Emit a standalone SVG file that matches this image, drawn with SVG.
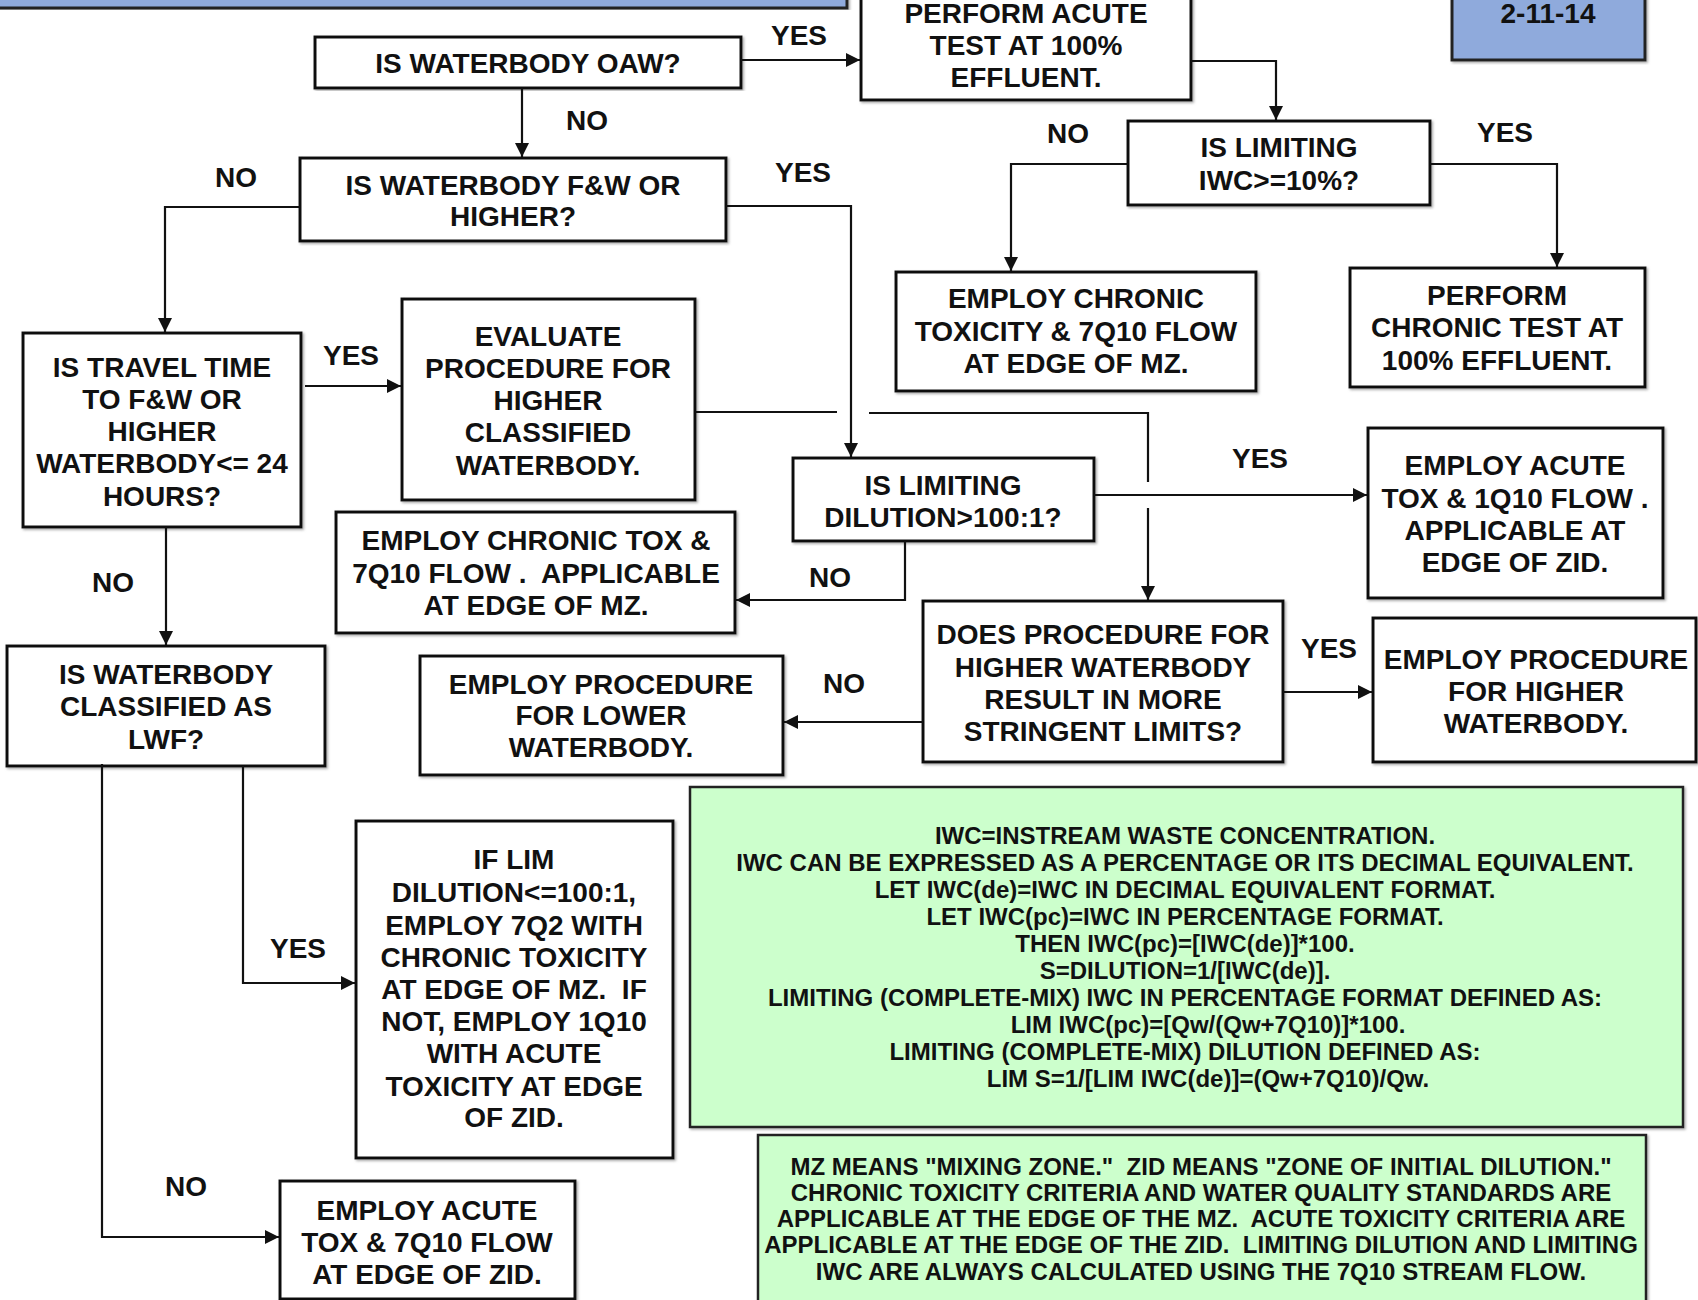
<svg xmlns="http://www.w3.org/2000/svg" width="1698" height="1300" viewBox="0 0 1698 1300">
<defs>
<marker id="arr" markerUnits="userSpaceOnUse" markerWidth="16" markerHeight="14" refX="14" refY="7" orient="auto">
<path d="M0,0 L14,7 L0,14 Z" fill="#111"/>
</marker>
<filter id="sh" x="-5%" y="-5%" width="110%" height="110%">
<feDropShadow dx="1.5" dy="1.5" stdDeviation="1" flood-color="#888" flood-opacity="0.7"/>
</filter>
<style>
.box{fill:#fff;stroke:#111;stroke-width:3;filter:url(#sh)}
.blue{fill:#8faadc;stroke:#222;stroke-width:3;filter:url(#sh)}
.green{fill:#ccffcc;stroke:#222;stroke-width:2.5;filter:url(#sh)}
.t{font-family:"Liberation Sans",Arial,sans-serif;font-weight:bold;font-size:28px;text-anchor:middle;fill:#111}
.g{font-family:"Liberation Sans",Arial,sans-serif;font-weight:bold;font-size:24px;text-anchor:middle;fill:#111;white-space:pre}
.c{fill:none;stroke:#111;stroke-width:2.2}
</style>
</defs>

<g id="banner"><rect class="blue" x="-4" y="-24" width="851" height="32"/></g>
<g id="date"><rect class="blue" x="1452" y="-24" width="193" height="84"/><text class="t" x="1548" y="23">2-11-14</text></g>

<g id="oaw"><rect class="box" x="315" y="37" width="426" height="51"/><text class="t" x="528" y="73">IS WATERBODY OAW?</text></g>
<g id="acuteTest"><rect class="box" x="861" y="-10" width="330" height="110"/><text class="t" x="1026" y="23">PERFORM ACUTE</text><text class="t" x="1026" y="55">TEST AT 100%</text><text class="t" x="1026" y="87">EFFLUENT.</text></g>
<g id="fw"><rect class="box" x="300" y="158" width="426" height="83"/><text class="t" x="513" y="195">IS WATERBODY F&amp;W OR</text><text class="t" x="513" y="226">HIGHER?</text></g>
<g id="iwc"><rect class="box" x="1128" y="121" width="302" height="84"/><text class="t" x="1279" y="157">IS LIMITING</text><text class="t" x="1279" y="190">IWC&gt;=10%?</text></g>
<g id="chronicMZ"><rect class="box" x="896" y="272" width="360" height="119"/><text class="t" x="1076" y="308">EMPLOY CHRONIC</text><text class="t" x="1076" y="341">TOXICITY &amp; 7Q10 FLOW</text><text class="t" x="1076" y="373">AT EDGE OF MZ.</text></g>
<g id="chronicTest"><rect class="box" x="1350" y="268" width="295" height="119"/><text class="t" x="1497" y="305">PERFORM</text><text class="t" x="1497" y="337">CHRONIC TEST AT</text><text class="t" x="1497" y="370">100% EFFLUENT.</text></g>
<g id="travel"><rect class="box" x="23" y="333" width="278" height="194"/><text class="t" x="162" y="377">IS TRAVEL TIME</text><text class="t" x="162" y="409">TO F&amp;W OR</text><text class="t" x="162" y="441">HIGHER</text><text class="t" x="162" y="473">WATERBODY&lt;= 24</text><text class="t" x="162" y="506">HOURS?</text></g>
<g id="evaluate"><rect class="box" x="402" y="299" width="293" height="201"/><text class="t" x="548" y="346">EVALUATE</text><text class="t" x="548" y="378">PROCEDURE FOR</text><text class="t" x="548" y="410">HIGHER</text><text class="t" x="548" y="442">CLASSIFIED</text><text class="t" x="548" y="475">WATERBODY.</text></g>
<g id="dilution"><rect class="box" x="793" y="458" width="301" height="83"/><text class="t" x="943" y="495">IS LIMITING</text><text class="t" x="943" y="527">DILUTION&gt;100:1?</text></g>
<g id="acute1q10"><rect class="box" x="1368" y="428" width="295" height="170"/><text class="t" x="1515" y="475">EMPLOY ACUTE</text><text class="t" x="1515" y="508">TOX &amp; 1Q10 FLOW .</text><text class="t" x="1515" y="540">APPLICABLE AT</text><text class="t" x="1515" y="572">EDGE OF ZID.</text></g>
<g id="chronicTox"><rect class="box" x="336" y="512" width="399" height="121"/><text class="t" x="536" y="550">EMPLOY CHRONIC TOX &amp;</text><text class="t" x="536" y="583" style="white-space:pre">7Q10 FLOW .  APPLICABLE</text><text class="t" x="536" y="615">AT EDGE OF MZ.</text></g>
<g id="does"><rect class="box" x="923" y="601" width="360" height="161"/><text class="t" x="1103" y="644">DOES PROCEDURE FOR</text><text class="t" x="1103" y="677">HIGHER WATERBODY</text><text class="t" x="1103" y="709">RESULT IN MORE</text><text class="t" x="1103" y="741">STRINGENT LIMITS?</text></g>
<g id="higher"><rect class="box" x="1373" y="618" width="323" height="144"/><text class="t" x="1536" y="669">EMPLOY PROCEDURE</text><text class="t" x="1536" y="701">FOR HIGHER</text><text class="t" x="1536" y="733">WATERBODY.</text></g>
<g id="lower"><rect class="box" x="420" y="656" width="363" height="119"/><text class="t" x="601" y="694">EMPLOY PROCEDURE</text><text class="t" x="601" y="725">FOR LOWER</text><text class="t" x="601" y="757">WATERBODY.</text></g>
<g id="lwf"><rect class="box" x="7" y="646" width="318" height="120"/><text class="t" x="166" y="684">IS WATERBODY</text><text class="t" x="166" y="716">CLASSIFIED AS</text><text class="t" x="166" y="749">LWF?</text></g>
<g id="iflim"><rect class="box" x="356" y="821" width="317" height="337"/>
<text class="t" x="514" y="869">IF LIM</text>
<text class="t" x="514" y="902">DILUTION&lt;=100:1,</text>
<text class="t" x="514" y="935">EMPLOY 7Q2 WITH</text>
<text class="t" x="514" y="967">CHRONIC TOXICITY</text>
<text class="t" x="514" y="999" style="white-space:pre">AT EDGE OF MZ.  IF</text>
<text class="t" x="514" y="1031">NOT, EMPLOY 1Q10</text>
<text class="t" x="514" y="1063">WITH ACUTE</text>
<text class="t" x="514" y="1096">TOXICITY AT EDGE</text>
<text class="t" x="514" y="1127">OF ZID.</text></g>
<g id="acuteZID"><rect class="box" x="280" y="1181" width="295" height="118"/><text class="t" x="427" y="1220">EMPLOY ACUTE</text><text class="t" x="427" y="1252">TOX &amp; 7Q10 FLOW</text><text class="t" x="427" y="1284">AT EDGE OF ZID.</text></g>

<g id="note1"><rect class="green" x="690" y="787" width="993" height="340"/>
<text class="g" x="1185" y="844">IWC=INSTREAM WASTE CONCENTRATION.</text>
<text class="g" x="1185" y="871">IWC CAN BE EXPRESSED AS A PERCENTAGE OR ITS DECIMAL EQUIVALENT.</text>
<text class="g" x="1185" y="898">LET IWC(de)=IWC IN DECIMAL EQUIVALENT FORMAT.</text>
<text class="g" x="1185" y="925">LET IWC(pc)=IWC IN PERCENTAGE FORMAT.</text>
<text class="g" x="1185" y="952">THEN IWC(pc)=[IWC(de)]*100.</text>
<text class="g" x="1185" y="979">S=DILUTION=1/[IWC(de)].</text>
<text class="g" x="1185" y="1006">LIMITING (COMPLETE-MIX) IWC IN PERCENTAGE FORMAT DEFINED AS:</text>
<text class="g" x="1208" y="1033">LIM IWC(pc)=[Qw/(Qw+7Q10)]*100.</text>
<text class="g" x="1185" y="1060">LIMITING (COMPLETE-MIX) DILUTION DEFINED AS:</text>
<text class="g" x="1208" y="1087">LIM S=1/[LIM IWC(de)]=(Qw+7Q10)/Qw.</text></g>
<g id="note2"><rect class="green" x="758" y="1135" width="888" height="180"/>
<text class="g" x="1201" y="1175">MZ MEANS "MIXING ZONE."  ZID MEANS "ZONE OF INITIAL DILUTION."</text>
<text class="g" x="1201" y="1201">CHRONIC TOXICITY CRITERIA AND WATER QUALITY STANDARDS ARE</text>
<text class="g" x="1201" y="1227">APPLICABLE AT THE EDGE OF THE MZ.  ACUTE TOXICITY CRITERIA ARE</text>
<text class="g" x="1201" y="1253">APPLICABLE AT THE EDGE OF THE ZID.  LIMITING DILUTION AND LIMITING</text>
<text class="g" x="1201" y="1280">IWC ARE ALWAYS CALCULATED USING THE 7Q10 STREAM FLOW.</text></g>

<g id="connectors">
<path class="c" d="M741,60 H860" marker-end="url(#arr)"/>
<path class="c" d="M522,88 V157" marker-end="url(#arr)"/>
<path class="c" d="M300,207 H165 V332" marker-end="url(#arr)"/>
<path class="c" d="M726,206 H851 V457" marker-end="url(#arr)"/>
<path class="c" d="M1191,61 H1276 V120" marker-end="url(#arr)"/>
<path class="c" d="M1128,164 H1011 V271" marker-end="url(#arr)"/>
<path class="c" d="M1430,164 H1557 V267" marker-end="url(#arr)"/>
<path class="c" d="M305,386 H401" marker-end="url(#arr)"/>
<path class="c" d="M695,412 H837 M869,413 H1148 V482 M1148,508 V600" marker-end="url(#arr)"/>
<path class="c" d="M1094,495 H1367" marker-end="url(#arr)"/>
<path class="c" d="M905,541 V600 H736" marker-end="url(#arr)"/>
<path class="c" d="M166,527 V645" marker-end="url(#arr)"/>
<path class="c" d="M1283,692 H1372" marker-end="url(#arr)"/>
<path class="c" d="M923,722 H784" marker-end="url(#arr)"/>
<path class="c" d="M243,766 V983 H355" marker-end="url(#arr)"/>
<path class="c" d="M102,764 V1237 H279" marker-end="url(#arr)"/>
<text class="t" x="799" y="45">YES</text>
<text class="t" x="587" y="130">NO</text>
<text class="t" x="236" y="187">NO</text>
<text class="t" x="803" y="182">YES</text>
<text class="t" x="1068" y="143">NO</text>
<text class="t" x="1505" y="142">YES</text>
<text class="t" x="351" y="365">YES</text>
<text class="t" x="113" y="592">NO</text>
<text class="t" x="1260" y="468">YES</text>
<text class="t" x="830" y="587">NO</text>
<text class="t" x="1329" y="658">YES</text>
<text class="t" x="844" y="693">NO</text>
<text class="t" x="298" y="958">YES</text>
<text class="t" x="186" y="1196">NO</text>
</g>
</svg>
